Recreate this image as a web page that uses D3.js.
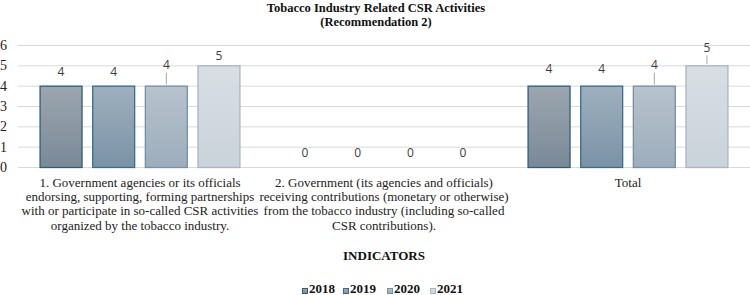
<!DOCTYPE html>
<html>
<head>
<meta charset="utf-8">
<script src="https://cdn.jsdelivr.net/npm/d3@7"></script>
<style>
  body { margin: 0; background: #fff; }
  svg { display: block; }
</style>
</head>
<body>
<div id="chart"></div>
<script>
const categories = [
  ["1. Government agencies or its officials", "endorsing, supporting, forming partnerships", "with or participate in so-called CSR activities", "organized by the tobacco industry."],
  ["2. Government (its agencies and officials)", "receiving contributions (monetary or otherwise)", "from the tobacco industry (including so-called", "CSR contributions)."],
  ["Total"]
];
const years = ["2018", "2019", "2020", "2021"];
const values = [
  [4, 4, 4, 5],
  [0, 0, 0, 0],
  [4, 4, 4, 5]
];
const yTicks = [0, 1, 2, 3, 4, 5, 6];

const W = 750, H = 295;
const plotLeft = 18, plotRight = 750, plotTop = 45, plotBottom = 167;

const fills = {
  "2018": ["#9ca6af", "#7a8998", "#2e5e79"],
  "2019": ["#9eb0be", "#7b92a6", "#3b6c89"],
  "2020": ["#b7c2cc", "#9dadbc", "#7290a7"],
  "2021": ["#d8dee4", "#cad2da", "#aab5c0"]
};

// label distance above bar top (px), and which labels get a leader line
const labelGap = { "0-2": 21, "0-3": 10, "2-0": 17, "2-1": 17, "2-2": 21, "2-3": 18 };
const leaders = ["0-2", "2-2", "2-3"];

const serif = "'Liberation Serif', 'Times New Roman', serif";

const svg = d3.select("#chart").append("svg")
  .attr("width", W).attr("height", H);

const defs = svg.append("defs");
years.forEach(yr => {
  const g = defs.append("linearGradient")
    .attr("id", "g" + yr).attr("x1", 0).attr("y1", 0).attr("x2", 0).attr("y2", 1);
  g.append("stop").attr("offset", "0%").attr("stop-color", fills[yr][0]);
  g.append("stop").attr("offset", "100%").attr("stop-color", fills[yr][1]);
});

const x0 = d3.scaleBand().domain(d3.range(categories.length)).range([plotLeft, plotRight]);
const x1 = d3.scaleBand().domain(years).range([0, x0.bandwidth()])
  .paddingInner(0.184).paddingOuter(0.41);
const y = d3.scaleLinear().domain([0, 6]).range([plotBottom, plotTop]);

// gridlines
svg.append("g").selectAll("line").data(yTicks).enter().append("line")
  .attr("x1", plotLeft).attr("x2", plotRight)
  .attr("y1", d => y(d) + 0.5).attr("y2", d => y(d) + 0.5)
  .attr("stroke", "#d9d9d9").attr("stroke-width", 1);

svg.append("g").selectAll("text").data(yTicks).enter().append("text")
  .attr("x", 7).attr("y", d => y(d)).attr("dy", "0.35em")
  .attr("text-anchor", "end")
  .style("font-family", serif).style("font-size", "14px")
  .attr("fill", "#222").text(d => d);

// title
const title = svg.append("text").attr("text-anchor", "middle")
  .style("font-family", serif).style("font-size", "12.5px")
  .style("font-weight", "bold").attr("fill", "#111");
title.append("tspan").attr("x", 376).attr("y", 11.5).text("Tobacco Industry Related CSR Activities");
title.append("tspan").attr("x", 376).attr("y", 25.5).text("(Recommendation 2)");

// bars
const groups = svg.append("g").selectAll("g").data(values).enter().append("g")
  .attr("transform", (d, i) => `translate(${x0(i)},0)`);

groups.each(function(vals, gi) {
  const g = d3.select(this);
  years.forEach((yr, j) => {
    const v = vals[j];
    const key = gi + "-" + j;
    const bx = x1(yr), bw = x1.bandwidth();
    if (v > 0) {
      g.append("rect")
        .attr("x", bx + 0.5).attr("y", y(v) + 0.5)
        .attr("width", bw - 1).attr("height", y(0) - y(v))
        .attr("fill", `url(#g${yr})`)
        .attr("stroke", fills[yr][2]).attr("stroke-width", 1.3);
    }
    const ly = y(v) - (labelGap[key] || 14);
    if (leaders.includes(key)) {
      g.append("line")
        .attr("x1", bx + bw / 2).attr("x2", bx + bw / 2)
        .attr("y1", y(v) - 1).attr("y2", ly + 8)
        .attr("stroke", "#a6a6a6").attr("stroke-width", 1);
    }
    g.append("text")
      .attr("x", bx + bw / 2).attr("y", ly).attr("dy", "0.35em")
      .attr("text-anchor", "middle")
      .style("font-family", "'Open Sans', sans-serif").style("font-size", "12px")
      .attr("fill", "#404040").text(v);
  });
});

// category labels
svg.append("g").selectAll("text").data(categories).enter().append("text")
  .attr("text-anchor", "middle")
  .style("font-family", serif).style("font-size", "13px")
  .attr("fill", "#222")
  .each(function(lines, i) {
    const t = d3.select(this);
    lines.forEach((ln, k) => {
      t.append("tspan").attr("x", x0(i) + x0.bandwidth() / 2)
        .attr("y", 187 + k * 14.2).text(ln);
    });
  });

svg.append("text").attr("x", (plotLeft + plotRight) / 2).attr("y", 260)
  .attr("text-anchor", "middle")
  .style("font-family", serif).style("font-size", "13px")
  .style("font-weight", "bold").attr("fill", "#111").text("INDICATORS");

// legend
const legendX = [302, 343, 387, 430];
const legend = svg.append("g").selectAll("g").data(years).enter().append("g")
  .attr("transform", (d, i) => `translate(${legendX[i]},293)`);
legend.append("rect").attr("x", 0.5).attr("y", -4.5).attr("width", 5).attr("height", 5)
  .attr("fill", d => `url(#g${d})`).attr("stroke", d => fills[d][2]);
legend.append("text").attr("x", 7).attr("y", 0)
  .style("font-family", serif).style("font-size", "13px")
  .style("font-weight", "bold").attr("fill", "#111").text(d => d);
</script>
</body>
</html>
